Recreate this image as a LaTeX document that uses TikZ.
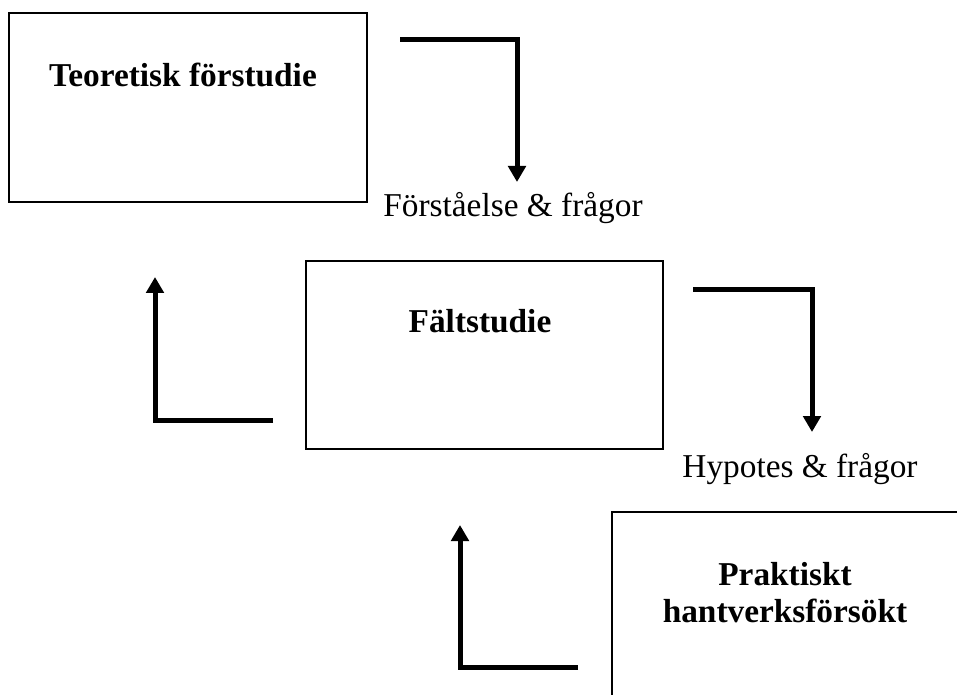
\documentclass[tikz,border=0pt]{standalone}
\usepackage{fontspec}
\setmainfont{Liberation Serif}
\usetikzlibrary{arrows.meta}

\begin{document}
\begin{tikzpicture}[x=0.75pt,y=-0.75pt,
    box/.style={line width=1pt},
    flow/.style={line width=3.75pt,-{Triangle[length=12pt,width=13pt]}},
    title/.style={anchor=base,font=\fontsize{25}{29}\selectfont\bfseries,align=center},
    label/.style={anchor=base,font=\fontsize{25}{29}\selectfont},
    ]
\useasboundingbox (0,0) rectangle (957,695);
\clip (0,0) rectangle (957,695);

%-------------------------------------------- Boxes
\draw[box] (9,13) rectangle (367,202);     % Teoretisk
\draw[box] (306,261) rectangle (663,449);  % Faltstudie
\draw[box] (612,512) rectangle (1000,760); % Praktiskt (runs off the page)

\node[title] (teo) at (183,87) {Teoretisk förstudie};
\node[title] (falt) at (480,333) {Fältstudie};
\node[title] (prak1) at (785,585) {Praktiskt};
\node[title] (prak2) at (785,622) {hantverksförsökt};

%-------------------------------------------- Labels
\node[label] (forst) at (513,217) {Förståelse \& frågor};
\node[label] (hyp) at (800,477) {Hypotes \& frågor};

%-------------------------------------------- Arrows
\coordinate (a1) at (400,40);    % Teoretisk -> Faltstudie
\coordinate (b1) at (517,182);
\draw[flow] (a1) -| (b1);

\coordinate (a2) at (693,290);   % Faltstudie -> Praktiskt
\coordinate (b2) at (812,432);
\draw[flow] (a2) -| (b2);

\coordinate (a3) at (578,667);   % Praktiskt -> Faltstudie
\coordinate (b3) at (460,525);
\draw[flow] (a3) -| (b3);

\coordinate (a4) at (273,420);   % Faltstudie -> Teoretisk
\coordinate (b4) at (155,277);
\draw[flow] (a4) -| (b4);

\end{tikzpicture}
\end{document}
